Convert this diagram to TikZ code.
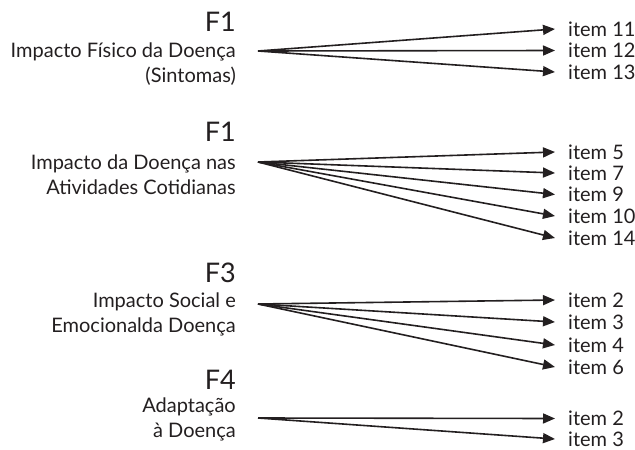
\documentclass[tikz,border=0pt]{standalone}
\usepackage{fontspec}
\setmainfont{Lato}
\usetikzlibrary{arrows.meta}
\definecolor{ink}{HTML}{231F20}
\begin{document}
\begin{tikzpicture}[x=1pt,y=-1pt,color=ink,
  fac/.style={anchor=east,inner sep=0pt,font=\fontsize{27}{30}\selectfont},
  desc/.style={anchor=east,inner sep=0pt,align=right,font=\fontsize{20}{25}\selectfont},
  itm/.style={anchor=west,inner ysep=0pt,inner xsep=13pt,font=\fontsize{20}{22}\selectfont},
  arr/.style={line width=1.6pt,-{Triangle[length=12pt,width=10pt]}}]
\useasboundingbox (0,0) rectangle (635,450);
% group 1
\node[fac] (f1a) at (236,22) {F1};
\node[desc] (d1) at (236,64.5) {Impacto Físico da Doença\\(Sintomas)};
\coordinate (o1) at (258,51);
\node[itm] (i11) at (555,29) {item 11};
\node[itm] (i12) at (555,50.5) {item 12};
\node[itm] (i13) at (555,72) {item 13};
\foreach \n in {i11,i12,i13} \draw[arr] (o1) -- (\n.west);
% group 2
\node[fac] (f1b) at (236,132) {F1};
\node[desc] (d2) at (236,175) {Impacto da Doença nas\\Atividades Cotidianas};
\coordinate (o2) at (258,162);
\node[itm] (i5) at (555,152) {item 5};
\node[itm] (i7) at (555,173) {item 7};
\node[itm] (i9) at (555,194.5) {item 9};
\node[itm] (i10) at (555,216) {item 10};
\node[itm] (i14) at (555,238) {item 14};
\foreach \n in {i5,i7,i9,i10,i14} \draw[arr] (o2) -- (\n.west);
% group 3
\node[fac] (f3) at (236,273) {F3};
\node[desc] (d3) at (236,314.5) {Impacto Social e\\Emocionalda Doença};
\coordinate (o3) at (258,304);
\node[itm] (i2a) at (555,300) {item 2};
\node[itm] (i3a) at (555,322) {item 3};
\node[itm] (i4) at (555,345) {item 4};
\node[itm] (i6) at (555,367) {item 6};
\foreach \n in {i2a,i3a,i4,i6} \draw[arr] (o3) -- (\n.west);
% group 4
\node[fac] (f4) at (236,380) {F4};
\node[desc] (d4) at (236,419) {Adaptação\\à Doença};
\coordinate (o4) at (258,418);
\node[itm] (i2b) at (555,418.5) {item 2};
\node[itm] (i3b) at (555,439) {item 3};
\foreach \n in {i2b,i3b} \draw[arr] (o4) -- (\n.west);
\end{tikzpicture}
\end{document}
